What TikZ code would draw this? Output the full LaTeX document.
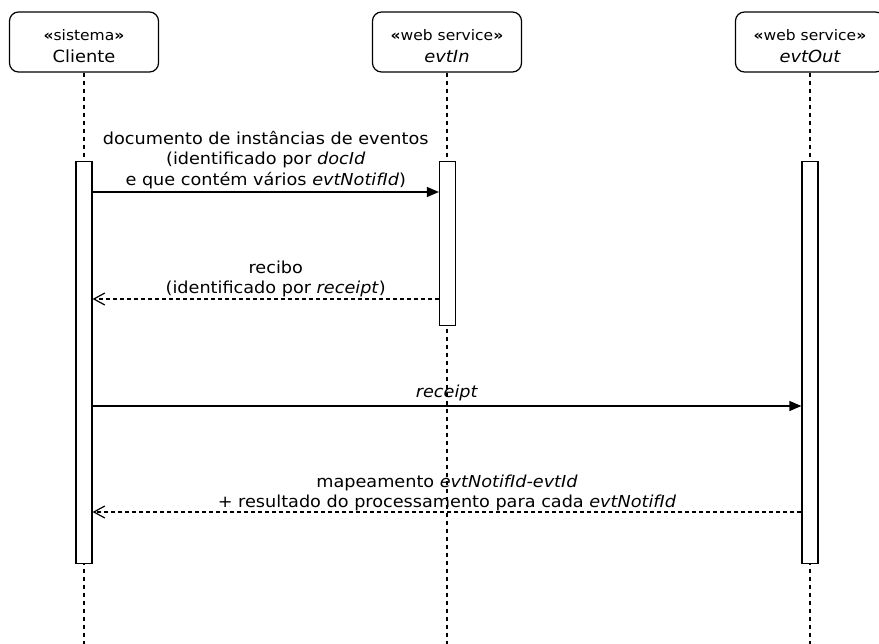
\documentclass[tikz,border=0pt]{standalone}
\usepackage{fontspec}
\setmainfont[FakeStretch=1.07]{DejaVu Sans}
\usetikzlibrary{arrows.meta}

\tikzset{
  headbox/.style={draw, line width=1.2pt, rounded corners=9pt, fill=white,
    minimum width=149pt, minimum height=60pt, inner sep=0pt},
  headtext/.style={inner sep=0pt, anchor=base},
  lifeline/.style={line width=1.2pt, dash pattern=on 4pt off 4pt},
  actbar/.style={draw, line width=1.2pt, fill=white, minimum width=16pt,
    inner sep=0pt, anchor=north},
  callmsg/.style={line width=1.2pt, -{Triangle[length=12pt,width=10pt]}},
  replymsg/.style={line width=1.2pt, dash pattern=on 4pt off 3pt,
    -{Straight Barb[length=11pt,width=12pt,line width=1.2pt]}},
  msglabel/.style={font=\fontsize{16.5}{20.5}\selectfont, align=center,
    inner sep=0pt, anchor=south},
}
\newcommand{\stereotxt}[1]{{\fontsize{14.5}{17}\selectfont\textbf{«}#1\textbf{»}}}
\newcommand{\lifename}[1]{{\fontsize{16.7}{20}\selectfont #1}}

\begin{document}
\begin{tikzpicture}[x=1pt,y=-1pt]
\clip (0,0) rectangle (879,644);
\fill[white] (0,0) rectangle (879,644);

% participants
\node[headbox] (cli) at (84,42) {};
\node[headbox] (in)  at (447,42) {};
\node[headbox] (out) at (810,42) {};
\node[headtext] (cliSt) at (84,41)  {\stereotxt{sistema}};
\node[headtext] (cliNm) at (84,63)  {\lifename{Cliente}};
\node[headtext] (inSt)  at (447,41) {\stereotxt{web service}};
\node[headtext] (inNm)  at (447,63) {\lifename{\itshape evtIn}};
\node[headtext] (outSt) at (810,41) {\stereotxt{web service}};
\node[headtext] (outNm) at (810,63) {\lifename{\itshape evtOut}};

% lifeline ends
\coordinate (cliEnd) at (84,644);
\coordinate (inEnd)  at (447,644);
\coordinate (outEnd) at (810,644);

\draw[lifeline] (cli.south) -- (cliEnd);
\draw[lifeline] (in.south)  -- (inEnd);
\draw[lifeline] (out.south) -- (outEnd);

% activation bars
\node[actbar, minimum height=402pt] (cliAct) at (84,161) {};
\node[actbar, minimum height=164pt] (inAct)  at (447.5,161) {};
\node[actbar, minimum height=402pt] (outAct) at (810,161) {};

% message anchor points on the bars
\coordinate (m1a) at (cliAct.east |- 0,192);
\coordinate (m1b) at (inAct.west  |- 0,192);
\coordinate (m2a) at (inAct.west  |- 0,299);
\coordinate (m2b) at (cliAct.east |- 0,299);
\coordinate (m3a) at (cliAct.east |- 0,406);
\coordinate (m3b) at (outAct.west |- 0,406);
\coordinate (m4a) at (outAct.west |- 0,512);
\coordinate (m4b) at (cliAct.east |- 0,512);

% messages
\draw[callmsg] (m1a) -- (m1b)
  node[msglabel, midway, yshift=2.5pt] (l1)
  {documento de instâncias de eventos\\(identificado por \textit{docId}\\e que contém vários \textit{evtNotifId})};
\draw[replymsg] (m2a) -- (m2b)
  node[msglabel, midway, xshift=10pt, yshift=1pt] (l2)
  {recibo\\(identificado por \textit{receipt})};
\draw[callmsg] (m3a) -- (m3b)
  node[msglabel, midway, yshift=4pt] (l3) {\textit{receipt}};
\draw[replymsg] (m4a) -- (m4b)
  node[msglabel, midway, yshift=0pt] (l4)
  {mapeamento \textit{evtNotifId-evtId}\\+ resultado do processamento para cada \textit{evtNotifId}};
\end{tikzpicture}
\end{document}
